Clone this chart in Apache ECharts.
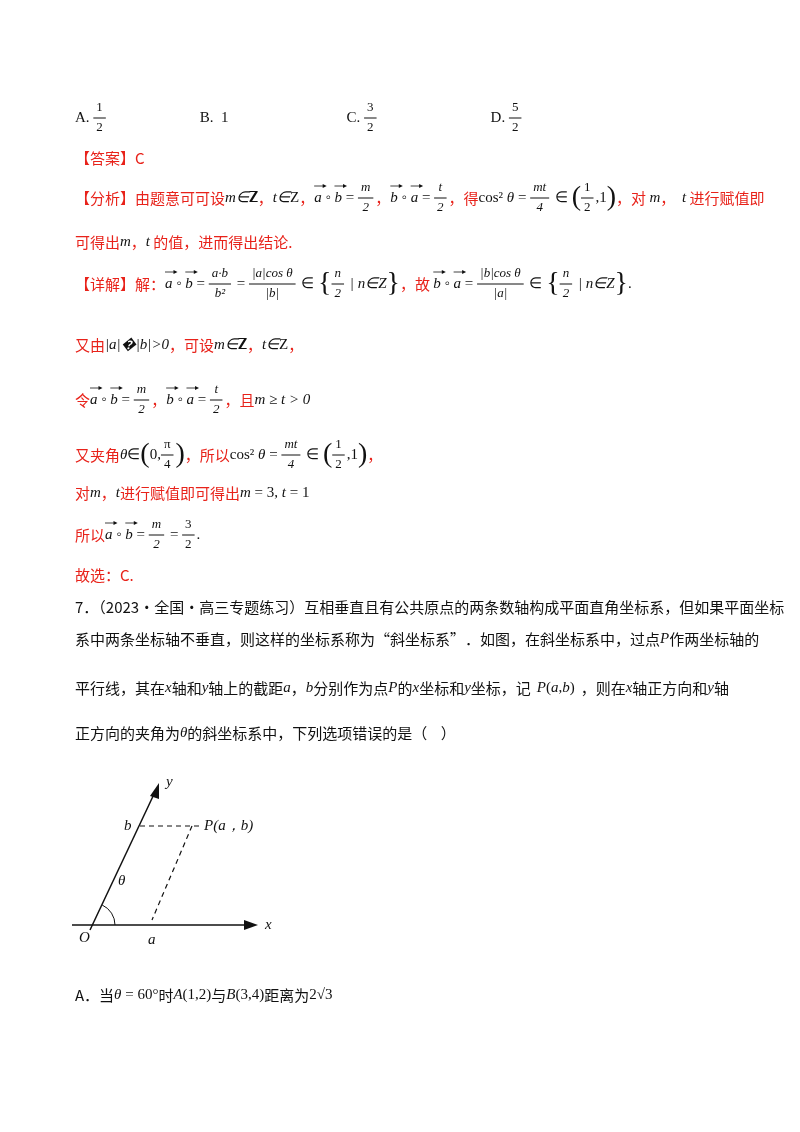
<!DOCTYPE html><html><head><meta charset="utf-8">
<script src="https://cdn.jsdelivr.net/npm/echarts@6/dist/echarts.min.js"></script>
<style>html,body{margin:0;background:#fff}#c{width:800px;height:1132px}</style></head><body><div id="c"></div>
<script>
const RED='#e8221a', BLK='#111';
// Each line: [x, y, items]; item kinds: c=CJK text, m=math italic, r=math roman, f=fraction, v=vector letter, b=big bracket, s=space
const lines=[
 [75,118,[['r','A. '],['f','1','2','r'],['s',92],['r','B.  1'],['s',118],['r','C. '],['f','3','2','r'],['s',112],['r','D. '],['f','5','2','r']]],
 [75,158,[['c','【答案】C']]],
 [75,198,[['c','【分析】由题意可可设'],['m','m∈'],['r','𝐙'],['c','，'],['m','t∈'],['r','Z'],['c','，'],['v','a'],['r',' ◦ '],['v','b'],['r',' = '],['f','m','2'],['c','，'],['v','b'],['r',' ◦ '],['v','a'],['r',' = '],['f','t','2'],['c','，得'],['r','cos'],['r','²'],['m',' θ'],['r',' = '],['f','mt','4'],['r',' ∈ '],['b','('],['f','1','2','r'],['r',',1'],['b',')'],['c','，对 '],['m','m'],['c','，  '],['m','t'],['c',' 进行赋值即']]],
 [75,242,[['c','可得出'],['m','m'],['c','，'],['m','t'],['c',' 的值，进而得出结论.']]],
 [75,284,[['c','【详解】解：'],['v','a'],['r',' ◦ '],['v','b'],['r',' = '],['f','a·b','b²'],['r',' = '],['f','|a|cos θ','|b|'],['r',' ∈ '],['b','{'],['f','n','2'],['m',' | n∈Z'],['b','}'],['c','，故 '],['v','b'],['r',' ◦ '],['v','a'],['r',' = '],['f','|b|cos θ','|a|'],['r',' ∈ '],['b','{'],['f','n','2'],['m',' | n∈Z'],['b','}'],['r','.']]],
 [75,345,[['c','又由'],['m','|a|�|b|>0'],['c','，可设'],['m','m∈'],['r','𝐙'],['c','，'],['m','t∈'],['r','Z'],['c','，']]],
 [75,400,[['c','令'],['v','a'],['r',' ◦ '],['v','b'],['r',' = '],['f','m','2'],['c','，'],['v','b'],['r',' ◦ '],['v','a'],['r',' = '],['f','t','2'],['c','，且'],['m','m ≥ t > 0']]],
 [75,455,[['c','又夹角'],['m','θ'],['r','∈'],['b','('],['r','0,'],['f','π','4','r'],['b',')'],['c','，所以'],['r','cos²'],['m',' θ'],['r',' = '],['f','mt','4'],['r',' ∈ '],['b','('],['f','1','2','r'],['r',',1'],['b',')'],['c','，']]],
 [75,493,[['c','对'],['m','m'],['c','，'],['m','t'],['c','进行赋值即可得出'],['m','m'],['r',' = 3, '],['m','t'],['r',' = 1']]],
 [75,535,[['c','所以'],['v','a'],['r',' ◦ '],['v','b'],['r',' = '],['f','m','2'],['r',' = '],['f','3','2','r'],['r','.']]],
 [75,575,[['c','故选：C.']]],
 [75,607,[['k','7．（2023·全国·高三专题练习）互相垂直且有公共原点的两条数轴构成平面直角坐标系，但如果平面坐标']]],
 [75,639,[['k','系中两条坐标轴不垂直，则这样的坐标系称为“斜坐标系”．如图，在斜坐标系中，过点'],['m','P'],['k','作两坐标轴的']]],
 [75,688,[['k','平行线，其在'],['m','x'],['k','轴和'],['m','y'],['k','轴上的截距'],['m','a'],['k','，'],['m','b'],['k','分别作为点'],['m','P'],['k','的'],['m','x'],['k','坐标和'],['m','y'],['k','坐标，记'],['s',6],['m','P'],['r','('],['m','a'],['r',','],['m','b'],['r',')'],['s',6],['k','，则在'],['m','x'],['k','轴正方向和'],['m','y'],['k','轴']]],
 [75,733,[['k','正方向的夹角为'],['m','θ'],['k','的斜坐标系中，下列选项错误的是（    ）']]],
 [75,995,[['k','A．当'],['m','θ'],['r',' = 60°'],['k','时'],['m','A'],['r','(1,2)'],['k','与'],['m','B'],['r','(3,4)'],['k','距离为'],['r','2√3']]]
];
const fonts={c:'15px "Noto Sans CJK SC"',k:'15px "Noto Sans CJK SC"',m:'italic 15px "Liberation Serif"',r:'15px "Liberation Serif"',v:'italic 15px "Liberation Serif"',b:'28px "Liberation Serif"'};
const small={m:'italic 13px "Liberation Serif"',r:'13px "Liberation Serif"'};
const cv=document.createElement('canvas').getContext('2d');
const W=(t,f)=>{cv.font=f;return cv.measureText(t).width;};
const els=[];
const T=(x,y,t,c,f,al)=>els.push({type:'text',x,y,style:{text:t,fill:c,font:f,textVerticalAlign:'middle',textAlign:al||'left'}});
const Ln=(x1,y1,x2,y2,c,w,d)=>els.push({type:'line',shape:{x1,y1,x2,y2},style:{stroke:c||BLK,lineWidth:w||1,lineDash:d?[5,4]:null}});
lines.forEach(([x,y,items])=>{
  items.forEach(it=>{
    const k=it[0];
    if(k==='s'){x+=it[1];return;}
    if(k==='f'){const f=small[it[3]||'m'];const w=Math.max(W(it[1],f),W(it[2],f))+6;
      T(x+w/2,y-10,it[1],BLK,f,'center');T(x+w/2,y+10,it[2],BLK,f,'center');Ln(x,y,x+w,y);x+=w+2;return;}
    const col=(k==='c')?RED:BLK;const f=fonts[k];
    T(x,y,it[1],col,f);const w=W(it[1],f);
    if(k==='v'){Ln(x,y-12,x+w+3,y-12,BLK,0.8);els.push({type:'polygon',shape:{points:[[x+w+5,y-12],[x+w+1,y-14],[x+w+1,y-10]]},style:{fill:BLK}});}
    x+=w;
  });
});
// diagram
Ln(72,925,250,925,BLK,1.5);els.push({type:'polygon',shape:{points:[[258,925],[244,920],[244,930]]},style:{fill:BLK}});
Ln(90,930,155,792,BLK,1.5);els.push({type:'polygon',shape:{points:[[159,783],[150,796],[159,799]]},style:{fill:BLK}});
Ln(140,826,200,826,BLK,1.2,1);Ln(192,826,152,920,BLK,1.2,1);
els.push({type:'arc',shape:{cx:93,cy:925,r:22,startAngle:-1.14,endAngle:0},style:{stroke:BLK,fill:'none',lineWidth:1}});
const D='italic 15px "Liberation Serif"';
T(166,782,'y',BLK,D);T(124,826,'b',BLK,D);T(204,826,'P(a，b)',BLK,D);T(118,881,'θ',BLK,D);T(79,938,'O',BLK,D);T(148,940,'a',BLK,D);T(265,925,'x',BLK,D);
const ch=echarts.init(document.getElementById('c'));
ch.setOption({graphic:{elements:els}});
</script></body></html>
